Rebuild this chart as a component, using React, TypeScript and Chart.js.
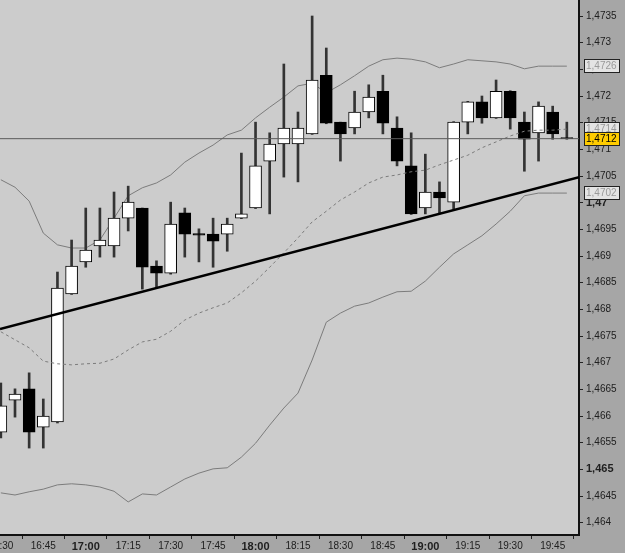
import React, { useEffect, useRef } from 'react';
import { Chart, registerables } from 'chart.js';

Chart.register(...registerables);

const candleTimes = [
  '16:30', '16:35', '16:40', '16:45', '16:50', '16:55', '17:00', '17:05', '17:10', '17:15',
  '17:20', '17:25', '17:30', '17:35', '17:40', '17:45', '17:50', '17:55', '18:00', '18:05',
  '18:10', '18:15', '18:20', '18:25', '18:30', '18:35', '18:40', '18:45', '18:50', '18:55',
  '19:00', '19:05', '19:10', '19:15', '19:20', '19:25', '19:30', '19:35', '19:40', '19:45',
  '19:50',
];

const xTickLabels = [
  '16:30', '16:45', '17:00', '17:15', '17:30', '17:45', '18:00', '18:15',
  '18:30', '18:45', '19:00', '19:15', '19:30', '19:45',
];
const boldXTicks = ['17:00', '18:00', '19:00'];

const yTickValues = [
  1.464, 1.4645, 1.465, 1.4655, 1.466, 1.4665, 1.467, 1.4675, 1.468, 1.4685,
  1.469, 1.4695, 1.47, 1.4705, 1.471, 1.4715, 1.472, 1.4725, 1.473, 1.4735,
];
const boldYTicks = [1.465, 1.47];

const opens = [
  1.4657, 1.4663, 1.46651, 1.46579, 1.46589, 1.46829, 1.46889, 1.46919, 1.46919, 1.46971,
  1.4699, 1.46881, 1.46868, 1.46981, 1.46942, 1.46941, 1.46941, 1.46971, 1.4699, 1.47078,
  1.4711, 1.4711, 1.47129, 1.47239, 1.47151, 1.4714, 1.4717, 1.47209, 1.4714, 1.47069,
  1.4699, 1.4702, 1.47001, 1.47151, 1.47189, 1.47159, 1.47209, 1.47151, 1.47131, 1.4717,
  1.47122,
];
const highs = [
  1.46662, 1.46651, 1.46681, 1.46632, 1.4687, 1.4693, 1.4699, 1.4699, 1.4702, 1.47031,
  1.4699, 1.46891, 1.47001, 1.4699, 1.46951, 1.46971, 1.46971, 1.47093, 1.47151, 1.47131,
  1.4726, 1.4717, 1.4735, 1.4729, 1.47151, 1.47209, 1.47221, 1.47239, 1.47161, 1.47131,
  1.47091, 1.47039, 1.47152, 1.4719, 1.472, 1.4723, 1.4721, 1.4717, 1.47189, 1.47181,
  1.47151,
];
const lows = [
  1.46559, 1.46598, 1.4654, 1.4654, 1.46587, 1.46828, 1.46879, 1.46898, 1.46898, 1.46947,
  1.46838, 1.4684, 1.46866, 1.46898, 1.46889, 1.46879, 1.46909, 1.4697, 1.46989, 1.46979,
  1.47048, 1.47039, 1.47128, 1.47148, 1.47078, 1.47129, 1.47159, 1.47129, 1.47069, 1.46978,
  1.46979, 1.46979, 1.46988, 1.47129, 1.47149, 1.47158, 1.47138, 1.47059, 1.47078, 1.47119,
  1.47119,
];
const closes = [
  1.46619, 1.46641, 1.4657, 1.466, 1.4684, 1.46881, 1.46911, 1.4693, 1.46971, 1.47001,
  1.46879, 1.46868, 1.4696, 1.46941, 1.46939, 1.46928, 1.4696, 1.46979, 1.47069, 1.4711,
  1.4714, 1.4714, 1.4723, 1.47149, 1.47129, 1.4717, 1.47198, 1.47149, 1.47078, 1.46979,
  1.4702, 1.47009, 1.47151, 1.47189, 1.47159, 1.47209, 1.47159, 1.47119, 1.47181, 1.47129,
  1.4712,
];

const upperBand = [
  1.47043, 1.47029, 1.47003, 1.46943, 1.46921, 1.46915, 1.46915, 1.4693, 1.46971, 1.47013,
  1.47028, 1.47037, 1.47052, 1.47076, 1.47093, 1.47108, 1.47127, 1.47136, 1.47159, 1.47179,
  1.47198, 1.47219, 1.47224, 1.47206, 1.47221, 1.47238, 1.47256, 1.47268, 1.47271, 1.47269,
  1.47264, 1.47253, 1.4726, 1.47268, 1.47266, 1.47264, 1.4726, 1.47251, 1.47256, 1.47256,
  1.47256,
];
const middleBand = [
  1.46758, 1.46743, 1.46728, 1.46703, 1.46698, 1.46696, 1.46698, 1.46699, 1.46707, 1.46724,
  1.46739, 1.46744, 1.46759, 1.4678, 1.46793, 1.46803, 1.46812, 1.46831, 1.46853, 1.46879,
  1.46906, 1.46934, 1.46964, 1.46984, 1.47005, 1.4702, 1.47037, 1.47048, 1.47052, 1.47058,
  1.47061, 1.47071, 1.4708, 1.47089, 1.47103, 1.47114, 1.47125, 1.47134, 1.47136, 1.47136,
  1.47138,
];
const lowerBand = [
  1.46456, 1.46452, 1.46458, 1.46463, 1.46471, 1.46473, 1.46471, 1.46467, 1.46459, 1.46439,
  1.46454, 1.46452, 1.46467, 1.46482, 1.46493, 1.46501, 1.46503, 1.46523, 1.46549, 1.46583,
  1.46615, 1.46643, 1.46705, 1.46776, 1.46793, 1.46806, 1.46812, 1.46823, 1.46833, 1.46834,
  1.46853, 1.46879, 1.46904, 1.46921, 1.46938, 1.4696, 1.46984, 1.47013, 1.47018, 1.47018,
  1.47018,
];

const trendStart = 1.46763;
const trendEnd = 1.47048;

const X_MIN = -0.06;
const X_MAX = 40.86;
const Y_MIN = 1.46377;
const Y_MAX = 1.4738;

const FONT = '"Liberation Sans", Arial, sans-serif';

const fmtTick = (v: number) =>
  v.toFixed(4).replace(/0+$/, '').replace(/\.$/, '').replace('.', ',');
const fmt4 = (v: number) => v.toFixed(4).replace('.', ',');

const isBoldY = (v: number) => boldYTicks.some((b) => Math.abs(b - v) < 1e-7);

const zeroPadding = (scale: any) => {
  scale.paddingLeft = 0;
  scale.paddingRight = 0;
  scale.paddingTop = 0;
  scale.paddingBottom = 0;
};

export default function App() {
  const canvasRef = useRef<HTMLCanvasElement | null>(null);

  useEffect(() => {
    const canvas = canvasRef.current;
    if (!canvas) return;

    const last = closes.length - 1;
    const bodyColors = closes.map((c, i) => (c >= opens[i] ? '#ffffff' : '#000000'));

    const bgPlugin = {
      id: 'bg',
      beforeDraw(chart: any) {
        const { ctx, chartArea, width, height } = chart;
        ctx.save();
        ctx.fillStyle = '#a6a6a6';
        ctx.fillRect(0, 0, width, height);
        ctx.fillStyle = '#cccccc';
        ctx.fillRect(chartArea.left, chartArea.top, chartArea.right - chartArea.left, chartArea.bottom - chartArea.top);
        ctx.restore();
      },
      afterDraw(chart: any) {
        const { ctx, chartArea } = chart;
        const ys = chart.scales.y;
        const drawBox = (value: number, fill: string, textColor: string) => {
          const y = Math.round(ys.getPixelForValue(value));
          const x = chartArea.right + 5;
          ctx.save();
          ctx.fillStyle = fill;
          ctx.fillRect(x, y - 7, 36, 14);
          ctx.strokeStyle = '#222222';
          ctx.lineWidth = 1;
          ctx.strokeRect(x + 0.5, y - 6.5, 35, 13);
          ctx.fillStyle = textColor;
          ctx.font = '10px ' + FONT;
          ctx.textBaseline = 'middle';
          ctx.textAlign = 'left';
          ctx.fillText(fmt4(value), x + 2, y + 0.5);
          ctx.restore();
        };
        drawBox(upperBand[upperBand.length - 1], '#e4e4e4', '#9a9a9a');
        drawBox(middleBand[middleBand.length - 1], '#e4e4e4', '#9a9a9a');
        drawBox(lowerBand[lowerBand.length - 1], '#e4e4e4', '#9a9a9a');
        drawBox(closes[last], '#ffcc00', '#000000');
      },
    };

    const chart = new Chart(canvas, {
      type: 'bar',
      data: {
        datasets: [
          {
            type: 'line',
            data: upperBand.map((v, i) => ({ x: i, y: v })),
            borderColor: '#7c7c7c',
            borderWidth: 1,
            pointRadius: 0,
            tension: 0,
            order: 10,
          },
          {
            type: 'line',
            data: lowerBand.map((v, i) => ({ x: i, y: v })),
            borderColor: '#7c7c7c',
            borderWidth: 1,
            pointRadius: 0,
            tension: 0,
            order: 10,
          },
          {
            type: 'bar',
            data: lows.map((l, i) => ({ x: i, y: [l, highs[i]] })),
            backgroundColor: '#333333',
            borderWidth: 0,
            barThickness: 2,
            grouped: false,
            order: 6,
          },
          {
            type: 'bar',
            data: opens.map((o, i) => ({ x: i, y: [o, closes[i]] })),
            backgroundColor: bodyColors,
            borderColor: '#000000',
            borderWidth: 1,
            borderSkipped: false,
            barThickness: 12,
            grouped: false,
            order: 5,
          },
          {
            type: 'line',
            data: middleBand.map((v, i) => ({ x: i, y: v })),
            borderColor: '#7c7c7c',
            borderWidth: 1,
            borderDash: [3, 3],
            pointRadius: 0,
            tension: 0,
            order: 4,
          },
          {
            type: 'line',
            data: [
              { x: X_MIN, y: closes[last] },
              { x: X_MAX, y: closes[last] },
            ],
            borderColor: '#5a5a5a',
            borderWidth: 1,
            pointRadius: 0,
            order: 3,
          },
          {
            type: 'line',
            data: [
              { x: X_MIN, y: trendStart },
              { x: X_MAX, y: trendEnd },
            ],
            borderColor: '#000000',
            borderWidth: 2.5,
            pointRadius: 0,
            order: 2,
          },
        ] as any,
      },
      options: {
        animation: false,
        responsive: false,
        maintainAspectRatio: false,
        events: [],
        layout: { padding: 0, autoPadding: false } as any,
        plugins: {
          legend: { display: false },
          tooltip: { enabled: false },
        },
        scales: {
          x: {
            type: 'linear',
            min: X_MIN,
            max: X_MAX,
            offset: false,
            grid: { drawOnChartArea: false, tickLength: 4, color: '#222222', tickColor: '#222222' },
            border: { display: true, color: '#111111', width: 2 },
            ticks: {
              autoSkip: false,
              maxRotation: 0,
              padding: 1,
              color: '#202020',
              font: (ctx: any) => {
                const lbl = candleTimes[Math.round(ctx.tick?.value ?? 0)];
                const b = boldXTicks.includes(lbl);
                return { family: FONT, size: b ? 11 : 10, weight: b ? 'bold' : 'normal' };
              },
              callback: (v: any) => candleTimes[Math.round(Number(v))] ?? '',
            },
            afterBuildTicks: (scale: any) => {
              scale.ticks = xTickLabels.map((l) => ({ value: candleTimes.indexOf(l) }));
            },
            afterFit: (scale: any) => {
              scale.height = 18;
              zeroPadding(scale);
            },
          },
          y: {
            type: 'linear',
            position: 'right',
            min: Y_MIN,
            max: Y_MAX,
            grid: { drawOnChartArea: false, tickLength: 4, color: '#222222', tickColor: '#222222' },
            border: { display: true, color: '#111111', width: 2 },
            ticks: {
              padding: 3,
              color: '#202020',
              font: (ctx: any) => {
                const b = isBoldY(ctx.tick?.value ?? 0);
                return { family: FONT, size: b ? 11 : 10, weight: b ? 'bold' : 'normal' };
              },
              callback: (v: any) => fmtTick(Number(v)),
            },
            afterBuildTicks: (scale: any) => {
              scale.ticks = yTickValues.map((v) => ({ value: v }));
            },
            afterFit: (scale: any) => {
              scale.width = 46;
              zeroPadding(scale);
            },
          },
        },
      } as any,
      plugins: [bgPlugin],
    });

    return () => chart.destroy();
  }, []);

  return (
    <div style={{ position: 'fixed', left: 0, top: 0, width: 625, height: 553 }}>
      <canvas ref={canvasRef} width={625} height={553} style={{ width: 625, height: 553 }} />
    </div>
  );
}
